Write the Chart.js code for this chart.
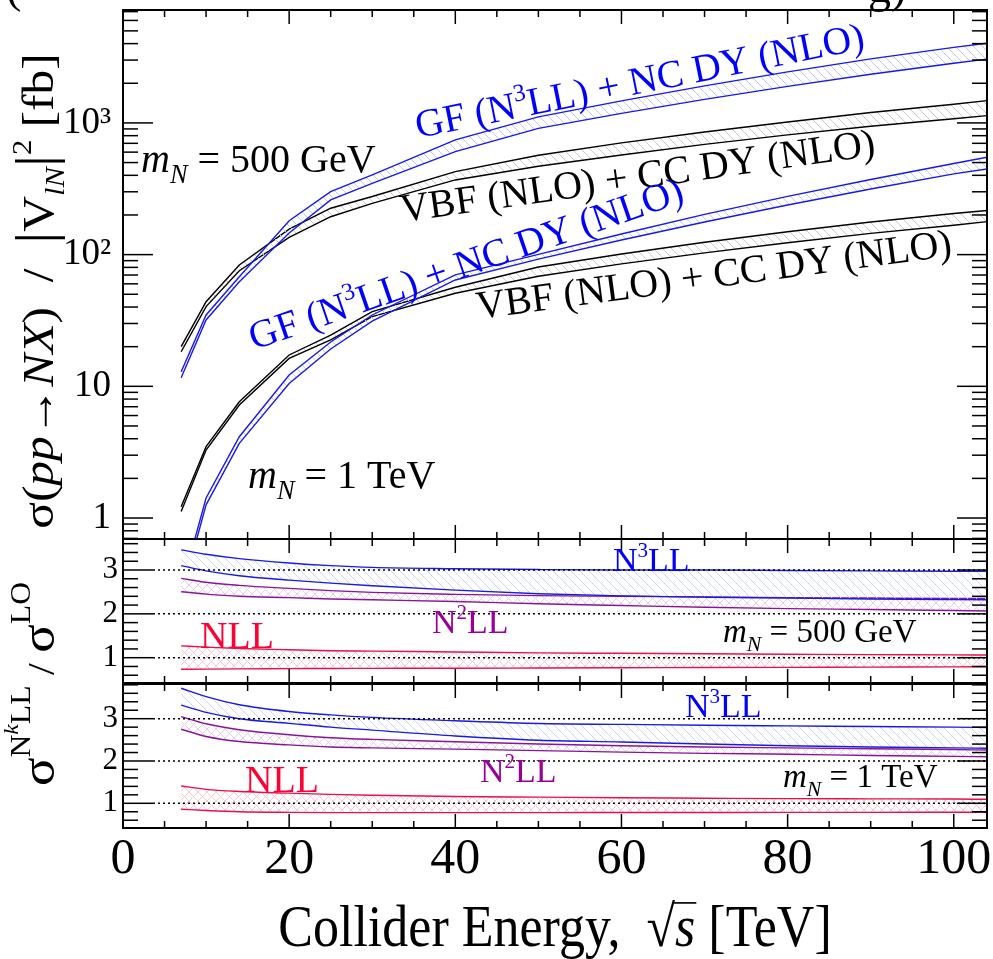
<!DOCTYPE html>
<html>
<head>
<meta charset="utf-8">
<script src="https://cdn.jsdelivr.net/npm/chart.js@4.4.0/dist/chart.umd.min.js"></script>
<style>
  body { margin: 0; background: #fff; }
  #wrap { position: relative; width: 993px; height: 959px; overflow: hidden; }
  #wrap canvas { position: absolute; left: 0; top: 0; }
</style>
</head>
<body>
<div id="wrap">
  <canvas id="crossChart" width="993" height="959"></canvas>
  <canvas id="ratio500Chart" width="993" height="959"></canvas>
  <canvas id="ratio1000Chart" width="993" height="959"></canvas>
</div>
<script>
// collider energies sqrt(s) in TeV
const energies = [7, 10, 14, 20, 25, 30, 40, 50, 60, 70, 80, 90, 100, 104];

// cross sections sigma / |V|^2 [fb], upper and lower edge of each band
const gf500Hi  = [12.9, 34.8, 68.0, 181, 301, 403, 743, 1111, 1469, 1910, 2439, 3062, 3744, 4030];
const gf500Lo  = [11.6, 31.9, 62.3, 146, 260, 348, 605, 908, 1181, 1508, 1893, 2343, 2840, 3048];
const vbf500Hi = [20.0, 43.9, 83.5, 156, 225, 276, 427, 568, 705, 854, 1017, 1201, 1387, 1477];
const vbf500Lo = [18.3, 40.3, 75.5, 135, 194, 245, 369, 469, 571, 687, 811, 944, 1076, 1136];
const gf1000Hi  = [0.289, 1.42, 4.14, 12.2, 21.7, 34.8, 70.1, 100.5, 143.5, 202, 277, 372, 492, 549];
const gf1000Lo  = [0.256, 1.26, 3.69, 10.5, 19.2, 31.3, 64.2, 92.4, 129, 177, 238, 315, 410, 447];
const vbf1000Hi = [1.22, 3.48, 7.64, 17.3, 24.5, 36.9, 56.5, 80.6, 101, 124, 149, 177, 205, 216];
const vbf1000Lo = [1.12, 3.28, 7.21, 16.3, 22.5, 33.8, 50.9, 68.5, 85, 103, 123, 145, 167, 178];

// K-factors sigma(N^kLL) / sigma(LO), mN = 500 GeV
const r500n3Hi = [3.46, 3.36, 3.26, 3.16, 3.10, 3.06, 3.03, 3.01, 3.00, 3.00, 2.99, 2.98, 2.97, 2.97];
const r500n3Lo = [3.10, 2.98, 2.87, 2.77, 2.70, 2.64, 2.54, 2.46, 2.41, 2.38, 2.36, 2.34, 2.325, 2.32];
const r500n2Hi = [2.81, 2.72, 2.65, 2.58, 2.53, 2.49, 2.445, 2.415, 2.40, 2.385, 2.37, 2.36, 2.35, 2.35];
const r500n2Lo = [2.505, 2.45, 2.40, 2.37, 2.34, 2.32, 2.28, 2.23, 2.19, 2.15, 2.12, 2.10, 2.075, 2.065];
const r500n1Hi = [1.27, 1.24, 1.21, 1.18, 1.16, 1.15, 1.13, 1.11, 1.10, 1.09, 1.08, 1.07, 1.065, 1.06];
const r500n1Lo = [0.735, 0.74, 0.745, 0.75, 0.755, 0.757, 0.76, 0.765, 0.77, 0.775, 0.78, 0.785, 0.79, 0.795];

// mN = 1 TeV
const r1000n3Hi = [3.72, 3.52, 3.33, 3.17, 3.09, 3.03, 2.95, 2.885, 2.865, 2.845, 2.83, 2.815, 2.80, 2.79];
const r1000n3Lo = [3.32, 3.15, 3.00, 2.89, 2.80, 2.73, 2.59, 2.49, 2.45, 2.40, 2.36, 2.33, 2.31, 2.30];
const r1000n2Hi = [3.05, 2.88, 2.74, 2.62, 2.55, 2.51, 2.455, 2.40, 2.36, 2.33, 2.31, 2.29, 2.27, 2.26];
const r1000n2Lo = [2.75, 2.58, 2.46, 2.38, 2.33, 2.31, 2.28, 2.245, 2.21, 2.18, 2.16, 2.13, 2.11, 2.10];
const r1000n1Hi = [1.41, 1.33, 1.28, 1.24, 1.21, 1.19, 1.16, 1.145, 1.13, 1.12, 1.11, 1.105, 1.10, 1.095];
const r1000n1Lo = [0.86, 0.83, 0.80, 0.785, 0.78, 0.78, 0.78, 0.78, 0.782, 0.783, 0.785, 0.786, 0.787, 0.787];

// axis ticks
const xLabelTicks = [0, 20, 40, 60, 80, 100];
const logMajor = [1, 10, 100, 1000];
const logLabels = {1: '1', 10: '10', 100: '10²', 1000: '10³'};
const ratioMajor = [1, 2, 3];

const FONT = '"Liberation Serif", "DejaVu Serif", serif';
const BLUE = '#1a1ae0';
const PURPLE = '#8a1497';
const RED = '#e8104a';

function hatch(color, cross) {
    const c = document.createElement('canvas');
    c.width = 9; c.height = 9;
    const g = c.getContext('2d');
    g.strokeStyle = color;
    g.lineWidth = 1;
    g.beginPath();
    g.moveTo(-1, -1); g.lineTo(10, 10);
    if (cross) { g.moveTo(10, -1); g.lineTo(-1, 10); }
    g.stroke();
    return g.createPattern(c, 'repeat');
}

function pts(arr) {
    return energies.map((e, i) => ({ x: e, y: arr[i] }));
}

function band(hi, lo, color, pattern, smooth) {
    const base = {
        borderColor: color,
        borderWidth: 1.4,
        pointRadius: 0,
        tension: smooth ? 0.4 : 0,
        cubicInterpolationMode: smooth ? 'monotone' : 'default'
    };
    return [
        Object.assign({ data: pts(hi), fill: false }, base),
        Object.assign({ data: pts(lo), fill: '-1', backgroundColor: pattern }, base)
    ];
}

function drawLabel(ctx, L) {
    ctx.save();
    ctx.translate(L.x, L.y);
    if (L.angle) ctx.rotate(L.angle * Math.PI / 180);
    ctx.scale(L.sx || 1, L.sy || 1);
    let w = 0;
    const items = L.parts.map(p => {
        const size = L.size * (p[1] || 1);
        const font = (p[2] ? 'italic ' : '') + size + 'px ' + FONT;
        ctx.font = font;
        const pw = ctx.measureText(p[0]).width;
        const it = { t: p[0], font: font, dx: w, w: pw, dy: (p[3] || 0) * L.size, over: p[4] };
        w += pw;
        return it;
    });
    const off = L.align === 'center' ? -w / 2 : 0;
    ctx.fillStyle = L.color || '#000';
    ctx.strokeStyle = L.color || '#000';
    ctx.textBaseline = 'alphabetic';
    items.forEach(it => {
        ctx.font = it.font;
        ctx.fillText(it.t, off + it.dx, it.dy);
        if (it.over) {
            ctx.lineWidth = 1.5;
            ctx.beginPath();
            ctx.moveTo(off + it.dx - 2, -L.size * 0.74);
            ctx.lineTo(off + it.dx + it.w + 1, -L.size * 0.74);
            ctx.stroke();
        }
    });
    ctx.restore();
}

const framePlugin = {
    id: 'frame',
    afterDatasetsDraw(chart, args, o) {
        const { ctx, chartArea: a, scales } = chart;
        const line = (x1, y1, x2, y2) => { ctx.beginPath(); ctx.moveTo(x1, y1); ctx.lineTo(x2, y2); ctx.stroke(); };
        ctx.save();
        ctx.strokeStyle = '#000';
        if (o.dotted) {
            ctx.lineWidth = 1.5;
            ctx.setLineDash([2, 3]);
            o.dotted.forEach(v => { const y = scales.y.getPixelForValue(v); line(a.left + 30, y, a.right, y); });
            ctx.setLineDash([]);
        }
        ctx.lineWidth = 1.5;
        for (let v = 0; v <= 104; v += 5) {
            const x = scales.x.getPixelForValue(v);
            const len = v % 20 === 0 ? 14 : 7;
            line(x, a.top, x, a.top + len);
            line(x, a.bottom, x, a.bottom - len);
        }
        const yTick = (v, len) => {
            const y = scales.y.getPixelForValue(v);
            if (y < a.top || y > a.bottom) return;
            line(a.left, y, a.left + len, y);
            line(a.right, y, a.right - len, y);
        };
        o.major.forEach(v => yTick(v, 30));
        o.minor.forEach(v => yTick(v, 15));
        ctx.lineWidth = 2;
        ctx.strokeRect(a.left, a.top, a.right - a.left, a.bottom - a.top);
        ctx.restore();
    },
    afterDraw(chart, args, o) {
        (o.labels || []).forEach(L => drawLabel(chart.ctx, L));
    }
};

function logMinor() {
    const out = [];
    [0.1, 1, 10, 100, 1000].forEach(d => { for (let k = 2; k <= 9; k++) out.push(d * k); });
    return out;
}
function ratioMinor(top) {
    const out = [];
    for (let v = 0.6; v <= top + 1e-6; v += 0.2) {
        const r = Math.round(v * 10) / 10;
        if (r % 1 !== 0) out.push(r);
    }
    return out;
}

function xScale(show) {
    const s = {
        type: 'linear', min: 0, max: 104, display: show,
        grid: { display: false, drawTicks: false },
        border: { display: false },
        afterBuildTicks: sc => { sc.ticks = xLabelTicks.map(v => ({ value: v })); },
        ticks: { font: { family: FONT, size: 50 }, color: '#000', padding: 2, maxRotation: 0, autoSkip: false }
    };
    if (show) s.afterFit = sc => { sc.height = 131; sc.paddingLeft = 0; sc.paddingRight = 0; };
    return s;
}

function yFit(s) {
    s.width = 123;
    s.paddingTop = 0;
    s.paddingBottom = 0;
}

function makeChart(id, datasets, yScale, padding, showX, frame) {
    return new Chart(document.getElementById(id), {
        type: 'line',
        data: { datasets: datasets },
        options: {
            responsive: false,
            animation: false,
            devicePixelRatio: 1,
            layout: { padding: padding },
            plugins: { legend: { display: false }, tooltip: { enabled: false }, frame: frame },
            scales: { x: xScale(showX), y: yScale }
        },
        plugins: [framePlugin]
    });
}

function ratioY(min, max) {
    return {
        type: 'linear', min: min, max: max,
        grid: { display: false, drawTicks: false },
        border: { display: false },
        afterBuildTicks: s => { s.ticks = ratioMajor.map(v => ({ value: v })); },
        afterFit: yFit,
        ticks: { font: { family: FONT, size: 31 }, color: '#000', padding: 5 }
    };
}

const mN = (x, y, size, rest) => ({
    x: x, y: y, size: size,
    parts: [['m', 1, true], ['N', 0.66, true, 0.28], [rest, 1]]
});

const supLabel = (x, y, angle, size, color, head, sup, tail) => ({
    x: x, y: y, angle: angle, size: size, color: color,
    parts: [[head, 1], [sup, 0.62, false, -0.42], [tail, 1]]
});

window.onload = function() {
    const hBlue = hatch('#c2c8ec', false);
    const hGray = hatch('#c8c8c8', false);
    const hPurple = hatch('#e4cfea', true);
    const hPink = hatch('#f7c9d5', true);
    const hBlueR = hatch('#cdd3f2', false);

    makeChart('crossChart',
        [].concat(
            band(gf500Hi, gf500Lo, BLUE, hBlue),
            band(vbf500Hi, vbf500Lo, '#000', hGray),
            band(gf1000Hi, gf1000Lo, BLUE, hBlue),
            band(vbf1000Hi, vbf1000Lo, '#000', hGray)
        ),
        {
            type: 'logarithmic', min: 0.693, max: 7200,
            grid: { display: false, drawTicks: false },
            border: { display: false },
            afterBuildTicks: s => { s.ticks = logMajor.map(v => ({ value: v })); },
            afterFit: yFit,
            ticks: { font: { family: FONT, size: 37 }, color: '#000', padding: 12, callback: v => logLabels[v] }
        },
        { left: 0, right: 6, top: 10, bottom: 420 },
        false,
        {
            major: logMajor, minor: logMinor(),
            labels: [
                supLabel(418, 138, -11.3, 39.5, '#0000ff', 'GF (N', '3', 'LL) + NC DY (NLO)'),
                { x: 402, y: 222, angle: -8, size: 40, parts: [['VBF (NLO) + CC DY (NLO)', 1]] },
                supLabel(254, 350, -19, 39.5, '#0000ff', 'GF (N', '3', 'LL) + NC DY (NLO)'),
                { x: 478, y: 319, angle: -7.6, size: 40, parts: [['VBF (NLO) + CC DY (NLO)', 1]] },
                mN(141, 172, 40, ' = 500 GeV'),
                mN(248, 488, 40, ' = 1 TeV'),
                { x: 6, y: 2, size: 46, parts: [['(', 1]] },
                { x: 868, y: 2, size: 46, parts: [['g)', 1]] }
            ]
        }
    );

    makeChart('ratio500Chart',
        [].concat(
            band(r500n3Hi, r500n3Lo, BLUE, hBlueR, true),
            band(r500n2Hi, r500n2Lo, PURPLE, hPurple, true),
            band(r500n1Hi, r500n1Lo, RED, hPink, true)
        ),
        ratioY(0.423, 3.707),
        { left: 0, right: 6, top: 539, bottom: 276 },
        false,
        {
            major: ratioMajor, minor: ratioMinor(3.7), dotted: ratioMajor,
            labels: [
                supLabel(613, 571, 0, 34, '#0000ff', 'N', '3', 'LL'),
                supLabel(432, 633, 0, 34, '#990099', 'N', '2', 'LL'),
                { x: 200, y: 648, size: 38, color: '#ff0033', parts: [['NLL', 1]] },
                mN(723, 642, 33, ' = 500 GeV')
            ]
        }
    );

    makeChart('ratio1000Chart',
        [].concat(
            band(r1000n3Hi, r1000n3Lo, BLUE, hBlueR, true),
            band(r1000n2Hi, r1000n2Lo, PURPLE, hPurple, true),
            band(r1000n1Hi, r1000n1Lo, RED, hPink, true)
        ),
        ratioY(0.416, 3.82),
        { left: 0, right: 6, top: 684, bottom: 0 },
        true,
        {
            major: ratioMajor, minor: ratioMinor(3.8), dotted: ratioMajor,
            labels: [
                supLabel(685, 717, 0, 34, '#0000ff', 'N', '3', 'LL'),
                supLabel(480, 782, 0, 34, '#990099', 'N', '2', 'LL'),
                { x: 245, y: 792, size: 38, color: '#ff0033', parts: [['NLL', 1]] },
                mN(783, 787, 33, ' = 1 TeV'),
                { x: 555, y: 946, size: 52, sy: 1.12, align: 'center',
                  parts: [['Collider Energy,  ', 1], ['√', 1], ['s', 1, true, 0, true], [' [TeV]', 1]] },
                { x: 53, y: 291, size: 45, sx: 1.1, angle: -90, align: 'center',
                  parts: [['σ(', 1], ['pp', 1, true], ['→', 1], ['NX', 1, true], [')  /  ', 1], ['|', 1.2],
                          ['V', 1], ['lN', 0.62, true, 0.25], ['|', 1.2], ['2', 0.62, false, -0.5], [' [fb]', 1]] },
                { x: 54, y: 684, size: 48, sx: 1.1, angle: -90, align: 'center',
                  parts: [['σ', 1], ['N', 0.6, false, -0.5], ['k', 0.45, true, -0.75], ['LL', 0.6, false, -0.5],
                          [' / ', 0.8], ['σ', 1], ['LO', 0.6, false, -0.5]] }
            ]
        }
    );
};
</script>
</body>
</html>
